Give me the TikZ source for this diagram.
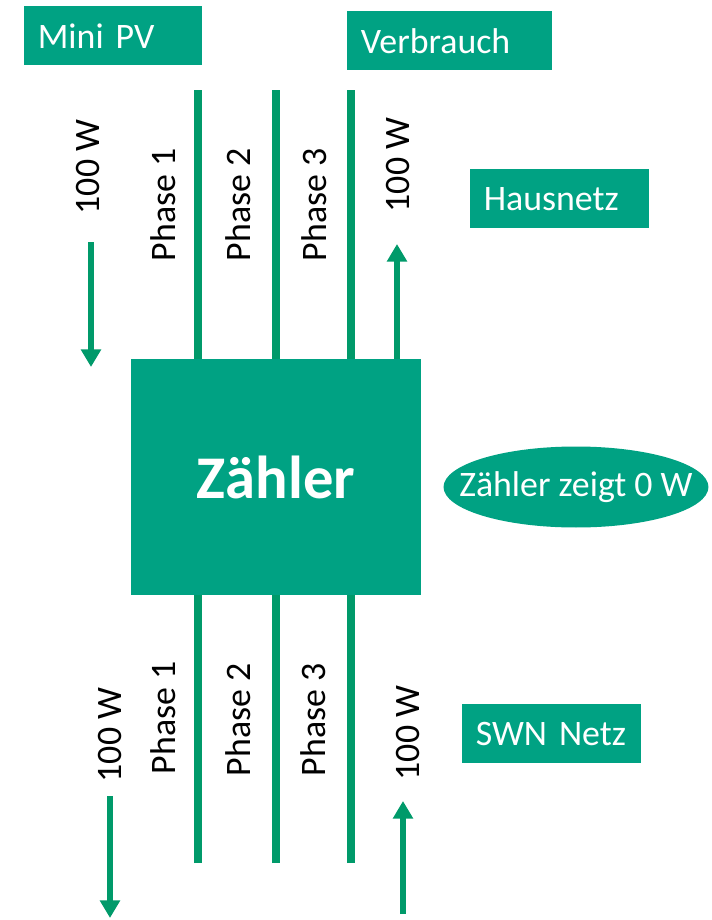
\documentclass[tikz,border=0pt]{standalone}
\usepackage{fontspec}
\setmainfont{Carlito}
\usepackage{xcolor}
\usetikzlibrary{shapes.geometric,arrows.meta,positioning}
\definecolor{boxgreen}{HTML}{00A283}
\definecolor{wiregreen}{HTML}{009A6A}

\begin{document}
\begin{tikzpicture}[x=0.02cm, y=-0.02cm, font=\fontsize{20.4}{24}\selectfont,
  tag/.style={fill=boxgreen, text=white, anchor=north west, minimum height=1.18cm, inner xsep=0.27cm, align=left},
  wire/.style={wiregreen, line width=5pt},
  flow/.style={wiregreen, line width=3.2pt, -{Triangle[length=10pt,width=11pt]}},
  lbl/.style={rotate=90, inner sep=0pt}]
\useasboundingbox (0,0) rectangle (712,920);

% labels around the meter
\node[tag, text width=3.02cm] (pv) at (24,6) {Mini PV};
\node[tag, text width=3.56cm] (verbrauch) at (347,11) {Verbrauch};
\node[tag, text width=3.04cm] (haus) at (470,169) {Hausnetz};
\node[tag, text width=3.04cm] (swn) at (462,704) {SWN Netz};

% the meter itself
\node[fill=boxgreen, text=white, minimum width=5.8cm, minimum height=4.72cm, inner sep=0pt,
  font=\fontsize{34.5}{40}\selectfont\bfseries] (zaehler) at (276,477) {\raisebox{-4pt}{Zähler}};
\node[ellipse, fill=boxgreen, minimum width=5.3cm, minimum height=1.62cm, inner sep=0pt] (anzeige) at (576,487) {};
\node[text=white, inner sep=0pt] (anzeigetext) at (anzeige.center) {Zähler zeigt 0 W};

% phase wires, house side and grid side
\coordinate (h1) at (198,90);  \coordinate (h2) at (276,90);  \coordinate (h3) at (351,90);
\coordinate (g1) at (198,863); \coordinate (g2) at (276,863); \coordinate (g3) at (351,863);
\draw[wire] (h1) -- (h1 |- zaehler.north);
\draw[wire] (h2) -- (h2 |- zaehler.north);
\draw[wire] (h3) -- (h3 |- zaehler.north);
\draw[wire] (g1) -- (g1 |- zaehler.south);
\draw[wire] (g2) -- (g2 |- zaehler.south);
\draw[wire] (g3) -- (g3 |- zaehler.south);

\node[lbl] (ph1) at (163,205) {Phase 1};
\node[lbl] (ph2) at (238,205) {Phase 2};
\node[lbl] (ph3) at (314,205) {Phase 3};
\node[lbl] (pg1) at (163,718) {Phase 1};
\node[lbl] (pg2) at (238,720) {Phase 2};
\node[lbl] (pg3) at (313,720) {Phase 3};

% power flows
\coordinate (pvin) at (91,242);   \coordinate (pvout) at (91,367);
\coordinate (lastout) at (397,244);
\coordinate (netin) at (110,796); \coordinate (netout) at (110,918);
\coordinate (backin) at (403,914); \coordinate (backout) at (403,801);
\draw[flow] (pvin) -- (pvout);
\draw[flow] (lastout |- zaehler.north) -- (lastout);
\draw[flow] (netin) -- (netout);
\draw[flow] (backin) -- (backout);

\node[lbl] (wpv) at (88,167) {100 W};
\node[lbl] (wlast) at (398,165) {100 W};
\node[lbl] (wnet) at (110,735) {100 W};
\node[lbl] (wback) at (408,733) {100 W};
\end{tikzpicture}
\end{document}
